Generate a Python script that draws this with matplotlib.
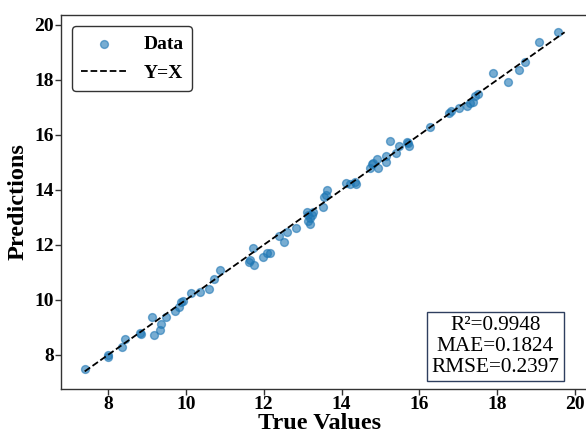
import matplotlib
matplotlib.use("Agg")
import matplotlib.pyplot as plt
import numpy as np

plt.rcParams['font.family'] = ['Liberation Serif', 'DejaVu Serif']

# values
y_true = [7.40, 8.00, 8.00, 8.35, 8.43, 8.82, 8.84, 9.14, 9.18, 9.33,
          9.36, 9.50, 9.72, 9.83, 9.87, 9.92, 10.12, 10.36, 10.59, 10.73,
          10.88, 11.61, 11.65, 11.73, 11.76, 11.98, 12.09, 12.15, 12.38, 12.51,
          12.59, 12.82, 13.11, 13.14, 13.15, 13.19, 13.18, 13.24, 13.26, 13.51,
          13.55, 13.61, 13.62, 14.12, 14.21, 14.35, 14.38, 14.72, 14.77, 14.81,
          14.91, 14.94, 15.13, 15.15, 15.24, 15.41, 15.48, 15.68, 15.73, 15.71,
          16.27, 16.76, 16.80, 17.01, 17.23, 17.31, 17.38, 17.43, 17.50, 17.89,
          18.28, 18.56, 18.71, 19.06, 19.57]
y_pred = [7.49, 8.00, 7.93, 8.30, 8.58, 8.79, 8.75, 9.37, 8.73, 8.91,
          9.13, 9.37, 9.60, 9.73, 9.94, 9.95, 10.24, 10.30, 10.40, 10.75,
          11.07, 11.36, 11.45, 11.88, 11.27, 11.55, 11.70, 11.70, 12.33, 12.10,
          12.46, 12.61, 13.21, 13.09, 12.85, 12.97, 12.75, 13.09, 13.21, 13.37,
          13.73, 13.82, 14.00, 14.24, 14.22, 14.28, 14.22, 14.79, 14.95, 14.99,
          15.12, 14.81, 15.24, 15.01, 15.78, 15.33, 15.61, 15.73, 15.61, 15.69,
          16.27, 16.81, 16.85, 16.97, 17.04, 17.15, 17.20, 17.40, 17.50, 18.24,
          17.92, 18.36, 18.64, 19.37, 19.73]
ticks = [8, 10, 12, 14, 16, 18, 20]
metrics_text = "R\u00b2=0.9948\nMAE=0.1824\nRMSE=0.2397"

fig = plt.figure(figsize=(5.86, 4.33), dpi=100)
ax = fig.add_axes([0.104, 0.1016, 0.904, 0.864])

ax.scatter(y_true, y_pred, s=32, color='#1f77b4', alpha=0.6, label='Data')
lo = min(min(y_true), min(y_pred))
hi = max(max(y_true), max(y_pred))
ax.plot([lo, hi], [lo, hi], 'k--', lw=1.3, label='Y=X')

ax.set_xlim(6.79, 20.4)
ax.set_ylim(6.76, 20.36)
ax.set_xticks(ticks)
ax.set_yticks(ticks)

ax.set_xlabel('True Values', fontsize=17.5, fontweight='bold')
ax.set_ylabel('Predictions', fontsize=17.5, fontweight='bold')
ax.xaxis.set_label_coords(0.489, -0.063)
ax.yaxis.set_label_coords(-0.062, 0.5)
for lab in ax.get_xticklabels() + ax.get_yticklabels():
    lab.set_fontweight('bold')
ax.tick_params(labelsize=14, length=4, width=1, color='#333333', pad=1)
for sp in ax.spines.values():
    sp.set_color('#333333')
    sp.set_linewidth(1)

leg = ax.legend(loc='upper left', prop={'weight': 'bold', 'size': 14},
                frameon=True, fancybox=True, edgecolor='#333333',
                framealpha=1, borderpad=0.45, labelspacing=0.6,
                handlelength=2.4, scatterpoints=1,
                bbox_to_anchor=(0.003, 0.995))
leg.get_frame().set_linewidth(1)

ax.text(0.82, 0.033, metrics_text, transform=ax.transAxes,
        ha='center', va='bottom', fontsize=15.3, linespacing=1.12,
        bbox=dict(boxstyle='square,pad=0.22', facecolor='white',
                  edgecolor='#2f3f5f', linewidth=1))

fig.savefig('out.png', dpi=100)
